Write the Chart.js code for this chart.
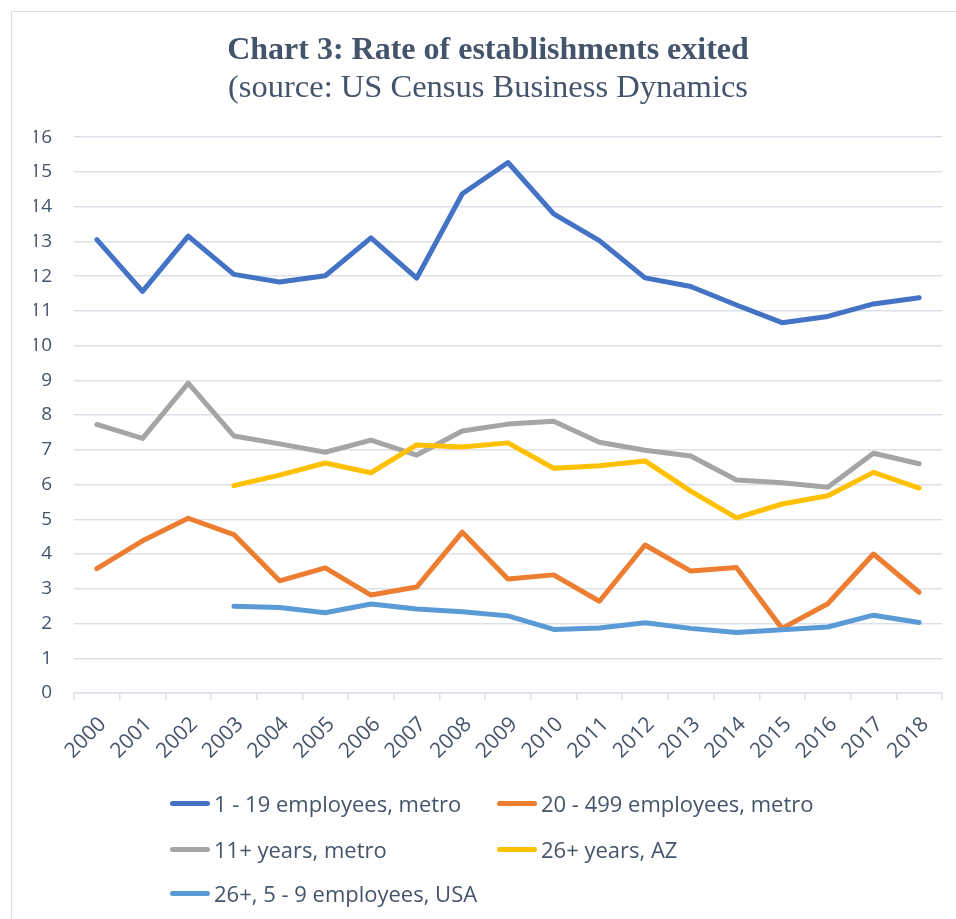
<!DOCTYPE html>
<html>
<head>
<meta charset="utf-8">
<script src="https://cdn.jsdelivr.net/npm/chart.js@4.4.1/dist/chart.umd.min.js"></script>
<style>
  html, body { margin: 0; padding: 0; background: #fff; }
  #wrap { position: relative; width: 956px; height: 919px; overflow: hidden; }
  #frame { position: absolute; left: 11px; top: 11px; width: 980px; height: 940px; border: 1.5px solid #D9DEE8; box-sizing: border-box; }
  canvas { position: absolute; left: 0; top: 0; }
  .leg { position: absolute; display: flex; align-items: center; font-family: "Open Sans", sans-serif; font-size: 22px; color: #44546A; white-space: nowrap; }
  .sw { width: 40px; height: 5px; border-radius: 3px; margin-right: 4px; }
</style>
</head>
<body>
<div id="wrap">
  <div id="frame"></div>
  <canvas id="c" width="956" height="919"></canvas>
</div>
<script>
const years = ["2000","2001","2002","2003","2004","2005","2006","2007","2008","2009","2010","2011","2012","2013","2014","2015","2016","2017","2018"];
const yTicks = [0,1,2,3,4,5,6,7,8,9,10,11,12,13,14,15,16];
const seriesNames = ["1 - 19 employees, metro","20 - 499 employees, metro","11+ years, metro","26+ years, AZ","26+, 5 - 9 employees, USA"];
const small_metro = [13.05,11.56,13.15,12.05,11.83,12.01,13.1,11.94,14.37,15.27,13.79,13.02,11.95,11.7,11.17,10.66,10.84,11.2,11.38];
const mid_metro   = [3.58,4.38,5.03,4.56,3.23,3.6,2.82,3.05,4.63,3.28,3.4,2.64,4.26,3.51,3.61,1.86,2.57,4.0,2.9];
const old_metro   = [7.73,7.33,8.92,7.4,7.17,6.93,7.28,6.85,7.54,7.74,7.82,7.22,6.99,6.82,6.13,6.05,5.92,6.9,6.6];
const old_az      = [null,null,null,5.97,6.27,6.62,6.34,7.14,7.08,7.2,6.47,6.54,6.68,5.81,5.04,5.44,5.68,6.35,5.9];
const old_usa     = [null,null,null,2.5,2.46,2.31,2.56,2.42,2.34,2.22,1.83,1.87,2.02,1.86,1.74,1.82,1.9,2.24,2.03];
const colors = ["#4472C4","#ED7D31","#A5A5A5","#FFC000","#5B9BD5"];
const seriesData = [small_metro, mid_metro, old_metro, old_az, old_usa];

const textColor = "#44546A";
const gridColor = "#DCE1E9";

const datasets = seriesData.map((d, i) => ({
  label: seriesNames[i],
  data: d,
  borderColor: colors[i],
  backgroundColor: colors[i],
  borderWidth: 5,
  pointRadius: 0,
  pointHoverRadius: 0,
  tension: 0,
  fill: false,
  spanGaps: false,
  borderCapStyle: "round",
  borderJoinStyle: "round",
  order: seriesData.length - i
}));

new Chart(document.getElementById("c"), {
  type: "line",
  data: { labels: years, datasets },
  options: {
    responsive: false,
    animation: false,
    devicePixelRatio: 1,
    layout: { padding: { top: 0, left: 34, right: 14, bottom: 0 } },
    plugins: {
      legend: { display: false },
      tooltip: { enabled: false },
      title: {
        display: true,
        text: "Chart 3: Rate of establishments exited",
        color: textColor,
        font: { family: "'Liberation Serif', 'Times New Roman', serif", size: 32, weight: "bold", lineHeight: 1.2 },
        padding: { top: 32, bottom: 0 }
      },
      subtitle: {
        display: true,
        text: "(source: US Census Business Dynamics",
        color: textColor,
        font: { family: "'Liberation Serif', 'Times New Roman', serif", size: 32.5, weight: "normal", lineHeight: 1.1 },
        padding: { top: 0, bottom: 31 }
      }
    },
    scales: {
      x: {
        offset: true,
        grid: { display: true, drawOnChartArea: false, drawTicks: true, tickLength: 7, offset: true, color: gridColor, lineWidth: 1.5 },
        border: { display: true, color: gridColor, width: 1.5 },
        ticks: {
          color: textColor,
          font: { family: "'Open Sans', sans-serif", size: 21 },
          minRotation: 45, maxRotation: 45,
          autoSkip: false,
          labelOffset: 6,
          padding: 12
        },
        afterFit: (s) => { s.height = 226; }
      },
      y: {
        min: 0, max: 16,
        afterBuildTicks: (s) => { s.ticks = yTicks.map(v => ({ value: v })); },
        grid: { color: gridColor, lineWidth: 1.5, drawTicks: false },
        border: { display: false },
        ticks: {
          color: textColor,
          font: { family: "'Open Sans', sans-serif", size: 19 },
          padding: 22
        },
        afterFit: (s) => { s.width = 40; }
      }
    }
  }
});

// HTML legend built from the series names / colours
const legPos = [[170, 803], [497, 803], [170, 849], [497, 849], [170, 893]];
const wrap = document.getElementById("wrap");
seriesNames.forEach((n, i) => {
  const el = document.createElement("div");
  el.className = "leg";
  el.style.left = legPos[i][0] + "px";
  el.style.top = (legPos[i][1] - 15) + "px";
  el.style.height = "30px";
  const sw = document.createElement("div");
  sw.className = "sw";
  sw.style.background = colors[i];
  const t = document.createElement("span");
  t.textContent = n;
  el.appendChild(sw);
  el.appendChild(t);
  wrap.appendChild(el);
});
</script>
</body>
</html>
